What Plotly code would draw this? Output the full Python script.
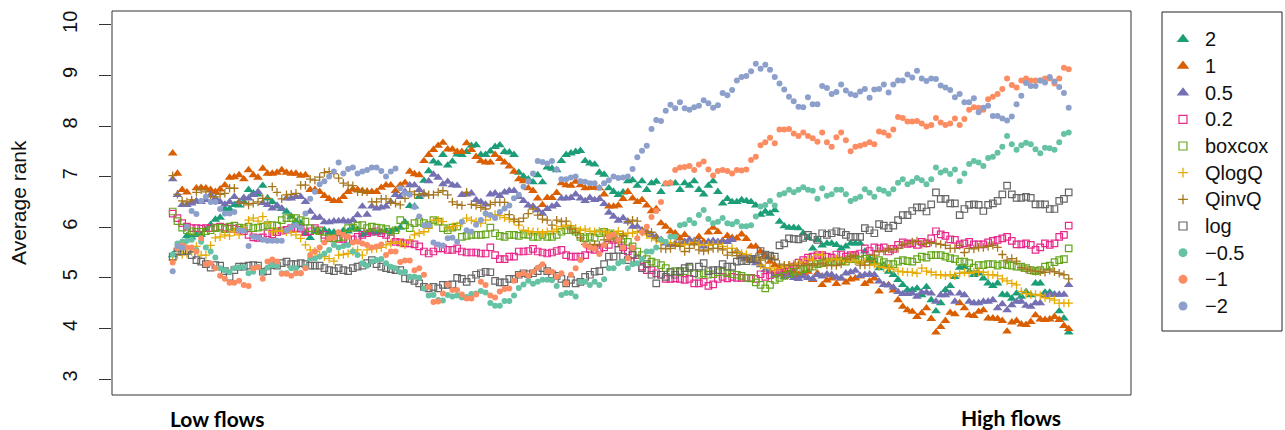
import plotly.graph_objects as go

# Average rank of each transformation along a moving window from low to high flows
window = list(range(190))

rank_p2 = [
    5.45, 5.55, 5.70, 5.83, 5.80, 5.85, 5.85, 5.95, 6.05, 6.15,
    6.19, 6.36, 6.36, 6.44, 6.43, 6.50, 6.74, 6.67, 6.65, 6.82,
    6.57, 6.50, 6.41, 6.36, 6.31, 6.21, 6.11, 6.08, 5.88, 5.79,
    5.92, 5.90, 5.94, 5.91, 5.90, 5.88, 5.93, 5.92, 5.98, 5.95,
    5.85, 5.88, 5.90, 5.88, 5.90, 5.92, 5.91, 5.95, 5.99, 6.10,
    6.42, 6.41, 6.60, 6.92, 7.11, 7.30, 7.26, 7.43, 7.22, 7.30,
    7.44, 7.43, 7.49, 7.61, 7.62, 7.43, 7.43, 7.50, 7.59, 7.62,
    7.49, 7.48, 7.43, 7.08, 7.00, 6.95, 6.89, 7.03, 6.89, 7.18,
    7.16, 7.13, 7.31, 7.43, 7.46, 7.49, 7.51, 7.31, 7.26, 7.24,
    7.08, 7.04, 6.77, 6.70, 6.64, 6.69, 6.91, 6.93, 6.82, 6.91,
    6.74, 6.87, 6.90, 6.70, 6.85, 6.87, 6.87, 6.74, 6.87, 6.82,
    6.91, 6.74, 6.65, 6.82, 6.91, 6.70, 6.47, 6.56, 6.50, 6.50,
    6.54, 6.52, 6.50, 6.43, 6.25, 6.31, 6.27, 6.34, 6.11, 6.02,
    5.99, 5.99, 5.98, 5.88, 5.79, 5.58, 5.75, 5.64, 5.68, 5.68,
    5.65, 5.58, 5.62, 5.68, 5.68, 5.68, 5.52, 5.38, 5.32, 5.19,
    5.25, 5.12, 5.06, 4.96, 4.86, 4.76, 4.76, 4.79, 4.66, 4.82,
    4.56, 4.34, 4.50, 4.76, 4.84, 5.02, 5.20, 5.21, 5.12, 5.06,
    5.09, 4.99, 4.89, 4.84, 4.89, 4.67, 4.66, 4.59, 4.69, 4.63,
    4.72, 4.66, 4.89, 4.89, 4.71, 4.71, 4.67, 4.34, 4.20, 3.92,
]

rank_p1 = [
    7.46, 7.06, 6.74, 6.69, 6.50, 6.77, 6.78, 6.77, 6.74, 6.70,
    6.75, 6.83, 6.98, 6.99, 7.03, 6.95, 7.13, 7.03, 6.98, 7.16,
    7.06, 7.06, 7.08, 7.13, 7.08, 7.06, 7.06, 7.02, 7.03, 6.74,
    6.74, 6.70, 6.62, 6.56, 6.52, 6.52, 6.60, 6.70, 6.75, 6.74,
    6.72, 6.70, 6.70, 6.70, 6.78, 6.83, 6.83, 6.72, 6.83, 6.88,
    7.10, 7.05, 7.03, 7.31, 7.43, 7.53, 7.61, 7.67, 7.54, 7.54,
    7.49, 7.49, 7.66, 7.53, 7.39, 7.31, 7.28, 7.28, 7.43, 7.35,
    7.28, 7.20, 7.10, 6.95, 6.91, 6.77, 6.72, 6.57, 6.44, 6.58,
    6.58, 6.68, 6.87, 6.83, 6.82, 6.90, 6.83, 6.77, 6.78, 6.78,
    6.77, 6.65, 6.41, 6.41, 6.43, 6.56, 6.70, 6.57, 6.50, 6.54,
    6.43, 6.32, 6.36, 6.08, 6.01, 5.92, 5.88, 5.78, 5.85, 5.75,
    5.71, 5.81, 5.71, 5.90, 5.99, 5.91, 5.73, 5.83, 5.79, 5.78,
    5.86, 5.77, 5.62, 5.62, 5.52, 5.45, 5.32, 5.25, 5.19, 5.12,
    5.09, 5.12, 5.06, 5.09, 5.12, 4.96, 5.09, 4.86, 4.95, 4.99,
    4.88, 4.99, 4.91, 4.97, 4.99, 5.03, 4.88, 4.93, 4.99, 4.73,
    4.86, 4.86, 4.75, 4.56, 4.43, 4.36, 4.33, 4.23, 4.30, 4.40,
    4.19, 3.92, 4.03, 4.15, 4.31, 4.28, 4.50, 4.40, 4.26, 4.25,
    4.33, 4.36, 4.20, 4.20, 4.19, 4.15, 3.94, 4.12, 4.15, 4.08,
    4.07, 4.13, 4.26, 4.18, 4.17, 4.18, 4.23, 4.17, 4.05, 3.99,
]

rank_p05 = [
    6.95, 6.64, 6.44, 6.44, 6.47, 6.52, 6.50, 6.54, 6.64, 6.57,
    6.50, 6.45, 6.50, 6.60, 6.50, 6.58, 6.57, 6.64, 6.70, 6.48,
    6.44, 6.37, 6.43, 6.37, 6.57, 6.57, 6.60, 6.60, 6.50, 6.31,
    6.19, 6.19, 6.10, 6.10, 6.12, 6.12, 6.13, 6.11, 6.14, 6.24,
    6.41, 6.25, 6.41, 6.37, 6.39, 6.41, 6.50, 6.64, 6.60, 6.70,
    6.83, 6.83, 6.74, 6.65, 6.91, 7.04, 6.98, 6.85, 6.90, 6.83,
    6.82, 6.64, 6.65, 6.67, 6.54, 6.50, 6.45, 6.65, 6.67, 6.62,
    6.69, 6.72, 6.72, 6.60, 6.52, 6.43, 6.41, 6.34, 6.27, 6.36,
    6.41, 6.44, 6.57, 6.57, 6.58, 6.65, 6.57, 6.52, 6.58, 6.54,
    6.56, 6.46, 6.29, 6.21, 6.13, 6.18, 6.11, 6.01, 6.01, 5.94,
    5.91, 5.85, 5.81, 5.75, 5.68, 5.65, 5.68, 5.68, 5.71, 5.75,
    5.73, 5.71, 5.62, 5.71, 5.73, 5.71, 5.71, 5.71, 5.75, 5.52,
    5.45, 5.38, 5.35, 5.29, 5.25, 5.15, 5.12, 5.05, 5.08, 5.02,
    5.05, 5.00, 4.98, 5.03, 5.00, 4.98, 5.06, 5.03, 5.07, 5.06,
    5.01, 4.99, 5.09, 5.11, 5.14, 5.04, 5.06, 5.07, 5.06, 4.93,
    4.86, 4.85, 4.81, 4.72, 4.68, 4.68, 4.69, 4.63, 4.71, 4.71,
    4.69, 4.53, 4.66, 4.66, 4.69, 4.53, 4.69, 4.66, 4.53, 4.50,
    4.50, 4.53, 4.53, 4.56, 4.40, 4.48, 4.36, 4.46, 4.53, 4.53,
    4.45, 4.43, 4.50, 4.50, 4.65, 4.67, 4.67, 4.67, 4.67, 4.86,
]

rank_p02 = [
    6.27, 6.18, 6.08, 6.01, 5.98, 5.98, 5.97, 5.98, 5.98, 5.99,
    6.01, 5.99, 5.97, 5.97, 5.95, 5.92, 5.85, 5.80, 5.79, 5.80,
    5.88, 5.86, 5.90, 5.93, 5.95, 5.98, 5.98, 5.97, 5.90, 5.92,
    5.98, 5.94, 5.85, 5.79, 5.78, 5.77, 5.77, 5.75, 5.76, 5.81,
    5.85, 5.88, 5.91, 5.92, 5.88, 5.85, 5.78, 5.71, 5.70, 5.68,
    5.68, 5.66, 5.62, 5.52, 5.48, 5.52, 5.58, 5.58, 5.55, 5.55,
    5.58, 5.52, 5.50, 5.50, 5.50, 5.48, 5.48, 5.60, 5.45, 5.37,
    5.37, 5.42, 5.42, 5.52, 5.52, 5.53, 5.57, 5.52, 5.50, 5.48,
    5.50, 5.53, 5.55, 5.45, 5.42, 5.42, 5.42, 5.45, 5.57, 5.55,
    5.57, 5.60, 5.65, 5.75, 5.68, 5.60, 5.52, 5.45, 5.32, 5.22,
    5.15, 5.15, 5.09, 5.06, 4.98, 4.98, 4.99, 4.98, 4.96, 4.98,
    4.89, 4.89, 4.92, 4.84, 4.87, 4.98, 5.02, 4.99, 5.02, 5.00,
    5.00, 5.00, 5.00, 4.98, 5.07, 5.02, 5.05, 5.08, 5.10, 5.12,
    5.15, 5.22, 5.30, 5.35, 5.40, 5.42, 5.45, 5.45, 5.42, 5.40,
    5.46, 5.46, 5.42, 5.45, 5.45, 5.48, 5.58, 5.53, 5.60, 5.58,
    5.60, 5.52, 5.57, 5.65, 5.70, 5.67, 5.68, 5.65, 5.71, 5.68,
    5.78, 5.92, 5.86, 5.83, 5.76, 5.75, 5.66, 5.68, 5.71, 5.66,
    5.66, 5.66, 5.70, 5.73, 5.75, 5.78, 5.81, 5.73, 5.66, 5.66,
    5.68, 5.65, 5.55, 5.60, 5.68, 5.65, 5.68, 5.81, 5.85, 6.03,
]

rank_boxcox = [
    6.31, 6.12, 5.99, 5.94, 5.92, 5.91, 5.91, 5.92, 5.94, 5.98,
    5.99, 5.96, 6.01, 6.03, 5.99, 5.98, 6.01, 5.98, 5.99, 6.01,
    6.04, 6.04, 6.03, 6.14, 6.18, 6.18, 6.18, 6.14, 6.11, 5.98,
    5.94, 5.92, 5.78, 5.79, 5.78, 5.80, 5.81, 5.98, 5.99, 6.03,
    6.04, 5.98, 6.01, 5.99, 5.98, 5.96, 5.91, 5.94, 6.14, 6.04,
    5.98, 6.08, 6.11, 6.08, 6.04, 6.14, 6.11, 5.98, 5.94, 5.99,
    6.01, 5.81, 5.83, 5.85, 5.85, 5.85, 5.86, 5.99, 5.88, 5.83,
    5.81, 5.85, 5.85, 5.83, 5.86, 5.85, 5.81, 5.81, 5.85, 5.81,
    5.81, 5.85, 5.91, 5.94, 5.94, 5.91, 5.81, 5.78, 5.81, 5.79,
    5.88, 5.91, 5.88, 5.85, 5.81, 5.77, 5.71, 5.62, 5.52, 5.45,
    5.37, 5.32, 5.29, 5.25, 5.19, 5.12, 5.13, 5.11, 5.13, 5.19,
    5.09, 5.06, 5.09, 5.06, 5.07, 5.11, 5.12, 5.09, 5.07, 5.06,
    5.04, 5.00, 4.99, 4.91, 4.86, 4.79, 4.86, 4.96, 5.00, 5.04,
    5.07, 5.12, 5.13, 5.17, 5.19, 5.22, 5.27, 5.29, 5.31, 5.32,
    5.31, 5.33, 5.32, 5.37, 5.37, 5.35, 5.38, 5.38, 5.32, 5.35,
    5.31, 5.27, 5.27, 5.32, 5.35, 5.33, 5.32, 5.37, 5.42, 5.40,
    5.45, 5.45, 5.45, 5.42, 5.39, 5.37, 5.32, 5.32, 5.29, 5.20,
    5.25, 5.25, 5.27, 5.27, 5.24, 5.27, 5.25, 5.24, 5.22, 5.22,
    5.19, 5.15, 5.13, 5.15, 5.22, 5.24, 5.31, 5.35, 5.37, 5.58,
]

rank_qlogq = [
    5.35, 5.45, 5.46, 5.48, 5.52, 5.62, 5.45, 5.45, 5.64, 5.79,
    5.81, 5.85, 5.83, 5.91, 5.85, 5.98, 6.14, 6.18, 6.12, 6.21,
    6.08, 5.91, 5.92, 5.93, 5.91, 5.90, 5.85, 5.78, 5.65, 5.55,
    5.52, 5.45, 5.42, 5.38, 5.33, 5.45, 5.46, 5.48, 5.52, 5.55,
    5.45, 5.55, 5.57, 5.58, 5.60, 5.65, 5.68, 5.71, 5.68, 5.65,
    5.75, 5.85, 5.88, 5.91, 5.98, 6.14, 6.14, 6.11, 5.98, 6.01,
    6.03, 6.08, 6.18, 6.14, 6.11, 6.08, 6.14, 6.21, 6.25, 6.23,
    6.19, 6.16, 6.12, 6.04, 5.94, 5.92, 5.91, 5.91, 5.88, 5.91,
    5.92, 5.96, 6.01, 6.04, 6.03, 5.98, 5.94, 5.96, 5.92, 5.91,
    5.92, 5.91, 5.88, 5.88, 5.92, 5.86, 5.88, 5.88, 5.91, 5.90,
    5.85, 5.79, 5.75, 5.71, 5.68, 5.68, 5.68, 5.66, 5.65, 5.66,
    5.70, 5.66, 5.64, 5.64, 5.66, 5.66, 5.62, 5.58, 5.58, 5.52,
    5.48, 5.46, 5.40, 5.37, 5.25, 5.20, 5.19, 5.15, 5.19, 5.22,
    5.25, 5.27, 5.29, 5.31, 5.37, 5.35, 5.46, 5.45, 5.33, 5.37,
    5.37, 5.35, 5.33, 5.37, 5.33, 5.29, 5.32, 5.25, 5.27, 5.22,
    5.20, 5.19, 5.17, 5.13, 5.12, 5.11, 5.11, 5.09, 5.19, 5.13,
    5.11, 5.06, 5.06, 5.04, 5.06, 5.04, 5.09, 5.11, 5.09, 5.11,
    5.12, 5.11, 5.06, 5.06, 5.04, 4.98, 4.94, 4.89, 4.86, 4.73,
    4.69, 4.67, 4.67, 4.65, 4.61, 4.59, 4.56, 4.50, 4.50, 4.50,
]

rank_qinvq = [
    7.02, 6.65, 6.52, 6.50, 6.54, 6.69, 6.74, 6.70, 6.60, 6.60,
    6.65, 6.67, 6.77, 6.77, 6.50, 6.47, 6.44, 6.47, 6.50, 6.57,
    6.57, 6.80, 6.69, 6.56, 6.64, 6.65, 6.67, 6.83, 6.83, 6.95,
    6.93, 6.99, 7.08, 7.10, 7.06, 6.97, 6.87, 6.83, 6.82, 6.70,
    6.70, 6.70, 6.50, 6.50, 6.56, 6.56, 6.50, 6.47, 6.44, 6.57,
    6.70, 6.65, 6.64, 6.67, 6.64, 6.64, 6.69, 6.72, 6.64, 6.50,
    6.45, 6.43, 6.69, 6.45, 6.43, 6.39, 6.36, 6.45, 6.49, 6.49,
    6.49, 6.25, 6.16, 6.11, 6.18, 6.27, 6.36, 6.24, 6.16, 6.14,
    6.04, 6.14, 6.11, 6.12, 5.96, 5.90, 5.79, 5.66, 5.64, 5.66,
    5.65, 5.75, 5.75, 5.79, 5.71, 5.83, 6.11, 6.14, 6.12, 5.92,
    5.91, 5.90, 5.79, 5.58, 5.57, 5.58, 5.64, 5.62, 5.52, 5.58,
    5.65, 5.55, 5.53, 5.55, 5.58, 5.58, 5.55, 5.45, 5.50, 5.44,
    5.40, 5.38, 5.37, 5.40, 5.35, 5.38, 5.40, 5.37, 5.27, 5.25,
    5.25, 5.24, 5.25, 5.24, 5.27, 5.24, 5.27, 5.29, 5.25, 5.24,
    5.24, 5.27, 5.37, 5.42, 5.45, 5.25, 5.25, 5.33, 5.45, 5.52,
    5.53, 5.57, 5.55, 5.58, 5.65, 5.68, 5.71, 5.73, 5.66, 5.68,
    5.70, 5.68, 5.66, 5.64, 5.58, 5.58, 5.64, 5.50, 5.58, 5.57,
    5.60, 5.60, 5.62, 5.64, 5.60, 5.46, 5.35, 5.38, 5.33, 5.20,
    5.17, 5.15, 5.13, 5.12, 5.11, 5.15, 5.12, 5.09, 5.06, 4.98,
]

rank_log = [
    5.42, 5.52, 5.52, 5.53, 5.45, 5.35, 5.32, 5.27, 5.20, 5.25,
    5.24, 5.13, 5.02, 5.15, 5.22, 5.22, 5.24, 5.25, 5.24, 5.12,
    5.13, 5.25, 5.24, 5.29, 5.32, 5.27, 5.27, 5.29, 5.27, 5.24,
    5.24, 5.24, 5.19, 5.15, 5.13, 5.19, 5.15, 5.13, 5.19, 5.22,
    5.24, 5.29, 5.35, 5.27, 5.22, 5.19, 5.17, 5.15, 5.15, 4.99,
    4.98, 4.94, 4.89, 4.82, 4.79, 4.82, 4.79, 4.86, 4.86, 4.87,
    5.00, 4.98, 4.92, 4.99, 5.06, 5.09, 5.12, 5.11, 4.94, 4.91,
    4.91, 4.98, 4.98, 5.06, 5.09, 5.07, 5.09, 5.13, 5.19, 5.13,
    5.07, 5.04, 4.98, 4.89, 4.96, 4.89, 4.92, 5.02, 5.06, 5.12,
    5.13, 5.27, 5.42, 5.42, 5.55, 5.42, 5.35, 5.46, 5.37, 5.19,
    5.27, 5.06, 4.89, 5.06, 5.02, 5.11, 5.06, 5.13, 5.19, 5.22,
    5.09, 5.22, 5.29, 5.13, 5.15, 5.15, 5.27, 5.22, 5.22, 5.32,
    5.33, 5.33, 5.37, 5.37, 5.53, 5.46, 5.44, 5.42, 5.64, 5.68,
    5.78, 5.77, 5.76, 5.79, 5.85, 5.81, 5.75, 5.88, 5.85, 5.88,
    5.92, 5.90, 5.85, 5.81, 5.81, 5.81, 5.98, 5.94, 5.88, 6.06,
    6.03, 5.98, 6.03, 6.14, 6.24, 6.24, 6.32, 6.39, 6.39, 6.31,
    6.45, 6.69, 6.56, 6.56, 6.47, 6.47, 6.24, 6.36, 6.44, 6.45,
    6.44, 6.32, 6.44, 6.47, 6.52, 6.65, 6.82, 6.65, 6.58, 6.58,
    6.60, 6.58, 6.45, 6.45, 6.45, 6.36, 6.36, 6.52, 6.56, 6.69,
]

rank_m05 = [
    5.46, 5.68, 5.71, 5.73, 5.75, 5.55, 5.71, 5.60, 5.52, 5.40,
    5.19, 5.15, 5.11, 5.19, 5.21, 5.21, 5.09, 5.12, 5.22, 5.12,
    5.20, 5.25, 5.24, 5.09, 5.09, 5.19, 5.19, 5.09, 5.22, 5.38,
    5.38, 5.42, 5.48, 5.55, 5.65, 5.60, 5.63, 5.65, 5.52, 5.45,
    5.29, 5.24, 5.32, 5.35, 5.37, 5.29, 5.22, 5.19, 5.11, 5.12,
    5.02, 5.02, 5.00, 4.79, 4.65, 4.66, 4.56, 4.55, 4.66, 4.63,
    4.65, 4.61, 4.62, 4.68, 4.69, 4.74, 4.71, 4.50, 4.45, 4.45,
    4.54, 4.54, 4.65, 4.80, 4.87, 4.94, 4.88, 4.92, 4.96, 4.96,
    4.95, 4.84, 4.66, 4.70, 4.70, 4.63, 4.92, 4.92, 4.86, 4.92,
    4.86, 4.97, 5.19, 5.19, 5.29, 5.32, 5.19, 5.27, 5.29, 5.37,
    5.52, 5.52, 5.60, 5.75, 5.71, 5.81, 5.81, 6.04, 6.06, 6.14,
    6.08, 6.24, 6.34, 6.16, 6.08, 6.11, 6.18, 6.08, 6.06, 6.11,
    6.02, 6.02, 6.04, 6.21, 6.41, 6.44, 6.52, 6.43, 6.64, 6.67,
    6.74, 6.69, 6.74, 6.79, 6.74, 6.72, 6.56, 6.77, 6.62, 6.65,
    6.74, 6.74, 6.65, 6.52, 6.56, 6.60, 6.75, 6.68, 6.60, 6.75,
    6.72, 6.66, 6.75, 6.88, 6.95, 6.85, 6.90, 6.97, 6.93, 6.85,
    6.95, 7.18, 7.08, 7.12, 7.05, 7.14, 6.91, 7.06, 7.25, 7.31,
    7.28, 7.21, 7.37, 7.39, 7.47, 7.59, 7.80, 7.64, 7.53, 7.62,
    7.67, 7.64, 7.54, 7.46, 7.57, 7.56, 7.53, 7.68, 7.84, 7.87,
]

rank_m1 = [
    5.30, 5.58, 5.64, 5.60, 5.60, 5.52, 5.78, 5.27, 5.29, 5.19,
    5.04, 4.98, 4.90, 4.90, 4.94, 4.86, 4.84, 5.19, 5.21, 4.98,
    5.32, 5.36, 5.32, 5.08, 5.08, 5.04, 5.09, 5.09, 5.19, 5.45,
    5.52, 5.60, 5.70, 5.78, 5.79, 5.90, 5.85, 5.81, 5.70, 5.71,
    5.68, 5.65, 5.60, 5.62, 5.66, 5.45, 5.52, 5.52, 5.31, 5.34,
    5.34, 5.15, 5.19, 5.06, 4.82, 4.52, 4.53, 4.69, 4.87, 4.76,
    4.76, 4.67, 4.59, 4.59, 4.67, 4.92, 4.86, 4.65, 4.61, 4.73,
    4.78, 4.79, 4.94, 5.06, 5.09, 5.04, 5.12, 5.20, 5.27, 5.13,
    5.12, 5.02, 5.09, 4.89, 5.06, 5.19, 5.35, 5.65, 5.60, 5.58,
    5.47, 5.65, 5.81, 5.85, 5.75, 5.60, 5.38, 5.60, 5.78, 5.90,
    6.01, 6.20, 6.32, 6.50, 6.87, 6.88, 7.13, 7.18, 7.19, 7.21,
    7.13, 7.24, 7.30, 7.14, 7.02, 7.11, 7.13, 7.11, 7.06, 7.13,
    7.12, 7.14, 7.33, 7.39, 7.62, 7.68, 7.77, 7.66, 7.93, 7.93,
    7.94, 7.85, 7.80, 7.87, 7.80, 7.76, 7.69, 7.87, 7.68, 7.59,
    7.78, 7.87, 7.72, 7.50, 7.59, 7.61, 7.64, 7.68, 7.64, 7.89,
    7.87, 7.81, 7.93, 8.18, 8.16, 8.09, 8.09, 8.10, 8.05, 7.99,
    8.02, 8.16, 8.07, 8.02, 8.05, 8.15, 8.02, 8.14, 8.32, 8.37,
    8.36, 8.32, 8.53, 8.58, 8.63, 8.73, 8.94, 8.81, 8.76, 8.90,
    8.94, 8.90, 8.90, 8.90, 8.94, 8.94, 8.84, 8.94, 9.15, 9.12,
]

rank_m2 = [
    5.13, 5.63, 5.60, 6.01, 6.32, 6.26, 6.52, 6.60, 6.50, 6.50,
    6.36, 6.27, 6.27, 6.30, 5.94, 5.93, 5.63, 5.81, 5.80, 5.75,
    5.73, 5.73, 5.73, 5.73, 5.94, 6.00, 6.04, 5.98, 6.27, 6.56,
    6.70, 6.85, 6.91, 7.00, 7.10, 7.28, 7.06, 7.15, 7.18, 7.06,
    7.10, 7.13, 7.18, 7.18, 7.11, 7.00, 7.10, 7.16, 6.77, 6.67,
    6.64, 6.40, 6.21, 6.04, 6.04, 5.70, 5.66, 5.64, 5.78, 5.79,
    5.71, 6.11, 5.94, 5.91, 6.05, 6.14, 6.27, 6.24, 6.18, 6.30,
    6.37, 6.43, 6.57, 6.64, 6.80, 6.91, 7.06, 7.31, 7.29, 7.26,
    7.31, 7.14, 6.95, 6.95, 6.98, 7.00, 6.91, 6.90, 6.87, 6.87,
    6.78, 6.87, 6.93, 7.00, 6.97, 6.98, 7.00, 7.15, 7.38, 7.51,
    7.61, 7.94, 8.12, 8.10, 8.30, 8.42, 8.35, 8.47, 8.35, 8.32,
    8.37, 8.40, 8.51, 8.45, 8.36, 8.41, 8.65, 8.61, 8.71, 8.90,
    8.97, 8.99, 9.08, 9.23, 9.13, 9.21, 9.11, 8.97, 8.84, 8.72,
    8.58, 8.49, 8.38, 8.37, 8.57, 8.43, 8.43, 8.79, 8.75, 8.63,
    8.67, 8.82, 8.70, 8.63, 8.61, 8.68, 8.73, 8.56, 8.72, 8.73,
    8.82, 8.66, 8.82, 8.90, 8.90, 9.02, 8.96, 9.09, 8.94, 8.89,
    8.94, 8.93, 8.80, 8.76, 8.71, 8.57, 8.63, 8.47, 8.47, 8.55,
    8.27, 8.36, 8.40, 8.20, 8.20, 8.15, 8.11, 8.19, 8.43, 8.60,
    8.85, 8.79, 8.79, 8.90, 8.86, 8.97, 8.88, 8.77, 8.65, 8.36,
]

series_labels = ["2", "1", "0.5", "0.2", "boxcox", "QlogQ", "QinvQ", "log",
                 "\u22120.5", "\u22121", "\u22122"]
y_ticks = [3, 4, 5, 6, 7, 8, 9, 10]

series_values = [rank_p2, rank_p1, rank_p05, rank_p02, rank_boxcox, rank_qlogq,
                 rank_qinvq, rank_log, rank_m05, rank_m1, rank_m2]

# marker style per series: (colour, symbol kind)
styles = [
    ("#1B9E77", "tri"), ("#D95F02", "tri"), ("#7570B3", "tri"),
    ("#E7298A", "sq"), ("#66A61E", "sq"),
    ("#E6AB02", "plus"), ("#A6761D", "plus"),
    ("#666666", "sq"),
    ("#66C2A5", "dot"), ("#FC8D62", "dot"), ("#8DA0CB", "dot"),
]


def marker_for(color, kind, big=False):
    if kind == "tri":
        return dict(symbol="triangle-up", size=11 if big else 8.5, color=color,
                    line=dict(width=0))
    if kind == "sq":
        return dict(symbol="square-open", size=8 if big else 6.5, color=color,
                    line=dict(width=1.2, color=color))
    if kind == "plus":
        return dict(symbol="cross-thin-open", size=7 if big else 6, color=color,
                    line=dict(width=1.3, color=color))
    return dict(symbol="circle", size=9 if big else 6, color=color,
                line=dict(width=0))


W, H = 1285, 430
# plot box in pixels
PL, PR, PT, PB = 112, 1131, 11, 395
# legend box in pixels
LL, LR, LT, LB = 1162, 1282, 12, 331

fig = go.Figure()

for vals, (color, kind) in zip(series_values, styles):
    fig.add_trace(go.Scatter(
        x=window, y=vals, mode="markers", marker=marker_for(color, kind),
        showlegend=False, hoverinfo="skip", xaxis="x", yaxis="y",
    ))

# legend entries drawn on their own small axis
item_y0, item_dy = 39.3, 26.67
annotations = []
for k, (label, (color, kind)) in enumerate(zip(series_labels, styles)):
    yc = item_y0 + k * item_dy
    fig.add_trace(go.Scatter(
        x=[1183 - LL], y=[yc], mode="markers", marker=marker_for(color, kind, big=True),
        showlegend=False, hoverinfo="skip", xaxis="x2", yaxis="y2", cliponaxis=False,
    ))
    annotations.append(dict(
        x=1203 - LL, y=yc, xref="x2", yref="y2", text=label, showarrow=False,
        xanchor="left", yanchor="middle",
        font=dict(family="Liberation Sans, Arial, sans-serif", size=20, color="#111"),
    ))

annotations += [
    dict(x=18 / W, y=1 - 203 / H, xref="paper", yref="paper", text="Average rank",
         textangle=-90, showarrow=False, xanchor="center", yanchor="middle",
         font=dict(family="Liberation Sans, Arial, sans-serif", size=21, color="#111")),
    dict(x=217 / W, y=1 - 418 / H, xref="paper", yref="paper", text="<b>Low flows</b>",
         showarrow=False, xanchor="center", yanchor="middle",
         font=dict(family="Lato, Carlito, sans-serif", size=21, color="#000")),
    dict(x=1011 / W, y=1 - 417 / H, xref="paper", yref="paper", text="<b>High flows</b>",
         showarrow=False, xanchor="center", yanchor="middle",
         font=dict(family="Lato, Carlito, sans-serif", size=21, color="#000")),
]

# x positions: first window at 172.7 px, last at 1068.7 px
px_per_step = (1068.7 - 172.7) / (len(window) - 1)
x_lo = -(172.7 - PL) / px_per_step
x_hi = (len(window) - 1) + (PR - 1068.7) / px_per_step

# y: value 3 at 379 px, 50.6 px per rank unit
y_lo = 3 - (PB - 379) / 50.6
y_hi = 3 + (379 - PT) / 50.6

fig.update_layout(
    width=W, height=H,
    margin=dict(l=0, r=0, t=0, b=0),
    paper_bgcolor="white", plot_bgcolor="white",
    xaxis=dict(domain=[PL / W, PR / W], range=[x_lo, x_hi], showgrid=False,
               zeroline=False, showticklabels=False, ticks="", showline=False,
               fixedrange=True),
    yaxis=dict(domain=[1 - PB / H, 1 - PT / H], range=[y_lo, y_hi], showgrid=False,
               zeroline=False, showline=False, tickvals=y_ticks,
               ticktext=[str(t) for t in y_ticks], ticks="outside", ticklen=12,
               tickwidth=1, tickcolor="#333", tickangle=-90, ticklabelstandoff=14,
               tickfont=dict(family="Liberation Sans, Arial, sans-serif", size=20,
                             color="#111"),
               fixedrange=True),
    xaxis2=dict(domain=[LL / W, LR / W], range=[0, LR - LL], visible=False,
                fixedrange=True),
    yaxis2=dict(domain=[1 - LB / H, 1 - LT / H], range=[LB, LT], visible=False,
                fixedrange=True),
    shapes=[
        dict(type="rect", xref="paper", yref="paper", x0=PL / W, x1=PR / W,
             y0=1 - PB / H, y1=1 - PT / H, line=dict(color="#333", width=1)),
        dict(type="rect", xref="paper", yref="paper", x0=LL / W, x1=LR / W,
             y0=1 - LB / H, y1=1 - LT / H, line=dict(color="#222", width=1)),
    ],
    annotations=annotations,
)

fig.write_html("out.html", config={"displayModeBar": False})
